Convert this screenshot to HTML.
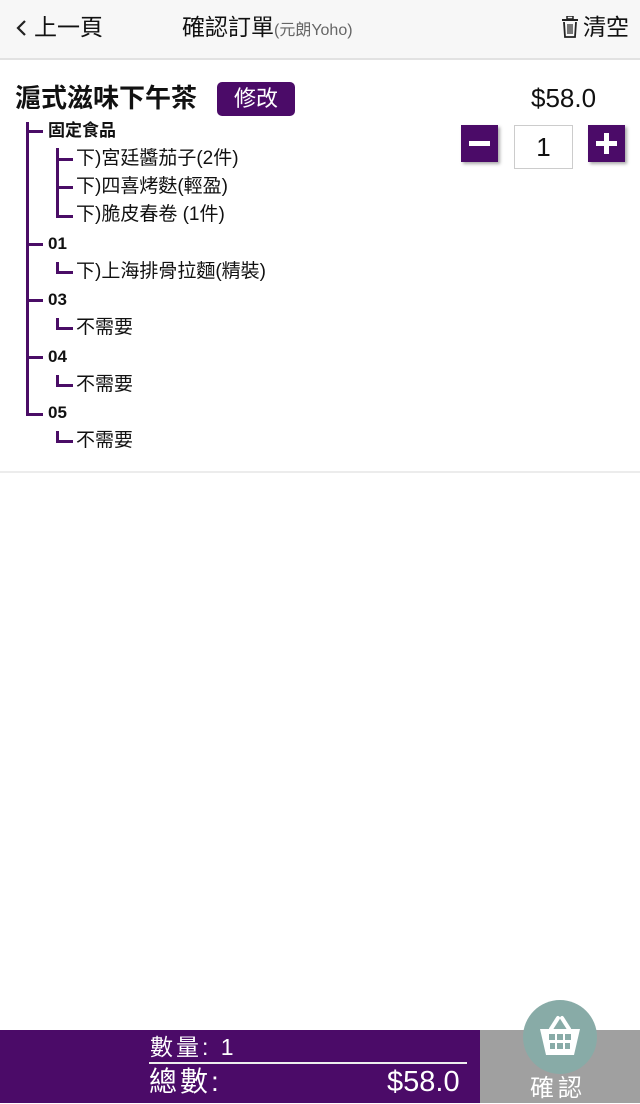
<!DOCTYPE html>
<html><head><meta charset="utf-8"><style>
*{margin:0;padding:0;box-sizing:border-box}
body{width:640px;height:1103px;background:#fff;position:relative;overflow:hidden;font-family:"Liberation Sans","Noto Sans CJK TC",sans-serif;color:#111}
.a{position:absolute;white-space:nowrap}
.ln{position:absolute;background:#4a0d66}
.t{position:absolute;font-size:19px;line-height:20px;white-space:nowrap}
</style></head><body>
<div class="a" style="left:0;top:0;width:640px;height:60px;background:#f7f7f7;border-bottom:2px solid #e2e2e2"></div>
<svg class="a" style="left:15px;top:19px" width="12" height="18" viewBox="0 0 12 18"><path d="M10 2 L3 9 L10 16" stroke="#222" stroke-width="2.2" fill="none"/></svg>
<div class="a" style="left:34px;top:12px;font-size:23px;line-height:30px">上一頁</div>
<div class="a" style="left:182px;top:12px;font-size:23px;line-height:30px">確認訂單<span style="font-size:16px;color:#666">(元朗Yoho)</span></div>
<svg class="a" style="left:561px;top:16px" width="18" height="22" viewBox="0 0 18 22"><rect x="1" y="3" width="16" height="2" fill="#222"/><rect x="6" y="0" width="6" height="3" fill="none" stroke="#222" stroke-width="1.5"/><path d="M3 6 L4 21 H14 L15 6" fill="none" stroke="#222" stroke-width="1.8"/><path d="M7 8V18M9 8V18M11 8V18" stroke="#222" stroke-width="1.2"/></svg>
<div class="a" style="left:583px;top:12px;font-size:23px;line-height:30px">清空</div>

<div class="a" style="left:15px;top:82px;font-size:26px;font-weight:bold;line-height:32px">滬式滋味下午茶</div>
<div class="a" style="left:217px;top:82px;width:78px;height:34px;background:#4b0b68;border-radius:5px;color:#fff;font-size:22px;line-height:34px;text-align:center">修改</div>
<div class="a" style="left:531px;top:83px;font-size:26px;line-height:30px">$58.0</div>

<div class="a" style="left:461px;top:125px;width:37px;height:37px;background:#4b0b68;box-shadow:2px 2px 3px #aaa"></div>
<div class="a" style="left:469px;top:141px;width:21px;height:5px;background:#fff"></div>
<div class="a" style="left:514px;top:125px;width:59px;height:44px;border:1px solid #ccc;font-size:26px;line-height:42px;text-align:center">1</div>
<div class="a" style="left:588px;top:125px;width:37px;height:37px;background:#4b0b68;box-shadow:2px 2px 3px #aaa"></div>
<div class="a" style="left:596px;top:141px;width:21px;height:5px;background:#fff"></div>
<div class="a" style="left:604px;top:133px;width:5px;height:21px;background:#fff"></div>

<div class="ln" style="left:26px;top:122px;width:3px;height:294px"></div>
<div class="ln" style="left:26px;top:130px;width:17px;height:3px"></div>
<div class="ln" style="left:26px;top:243px;width:17px;height:3px"></div>
<div class="ln" style="left:26px;top:299px;width:17px;height:3px"></div>
<div class="ln" style="left:26px;top:356px;width:17px;height:3px"></div>
<div class="ln" style="left:26px;top:413px;width:17px;height:3px"></div>
<div class="ln" style="left:56px;top:148px;width:3px;height:70px"></div>
<div class="ln" style="left:56px;top:158px;width:17px;height:3px"></div>
<div class="ln" style="left:56px;top:186px;width:17px;height:3px"></div>
<div class="ln" style="left:56px;top:215px;width:17px;height:3px"></div>
<div class="ln" style="left:56px;top:262px;width:3px;height:12px"></div>
<div class="ln" style="left:56px;top:271px;width:17px;height:3px"></div>
<div class="ln" style="left:56px;top:318px;width:3px;height:12px"></div>
<div class="ln" style="left:56px;top:327px;width:17px;height:3px"></div>
<div class="ln" style="left:56px;top:375px;width:3px;height:12px"></div>
<div class="ln" style="left:56px;top:384px;width:17px;height:3px"></div>
<div class="ln" style="left:56px;top:431px;width:3px;height:12px"></div>
<div class="ln" style="left:56px;top:440px;width:17px;height:3px"></div>

<div class="t" style="left:48px;top:121px;font-weight:bold;font-size:17px">固定食品</div>
<div class="t" style="left:76px;top:149px">下)宮廷醬茄子(2件)</div>
<div class="t" style="left:76px;top:177px">下)四喜烤麩(輕盈)</div>
<div class="t" style="left:76px;top:205px">下)脆皮春卷 (1件)</div>
<div class="t" style="left:48px;top:234px;font-weight:bold;font-size:17px">01</div>
<div class="t" style="left:76px;top:262px">下)上海排骨拉麵(精裝)</div>
<div class="t" style="left:48px;top:290px;font-weight:bold;font-size:17px">03</div>
<div class="t" style="left:76px;top:318px">不需要</div>
<div class="t" style="left:48px;top:347px;font-weight:bold;font-size:17px">04</div>
<div class="t" style="left:76px;top:375px">不需要</div>
<div class="t" style="left:48px;top:403px;font-weight:bold;font-size:17px">05</div>
<div class="t" style="left:76px;top:431px">不需要</div>

<div class="a" style="left:0;top:471px;width:640px;height:2px;background:#ececec"></div>

<div class="a" style="left:0;top:1030px;width:480px;height:73px;background:#4b0b68"></div>
<div class="a" style="left:480px;top:1030px;width:160px;height:73px;background:#a0a0a0"></div>
<div class="a" style="left:150px;top:1034px;color:#fff;font-size:23px;line-height:26px;letter-spacing:3px">數量: 1</div>
<div class="a" style="left:149px;top:1062px;width:318px;height:2px;background:#eee"></div>
<div class="a" style="left:149px;top:1065px;color:#fff;font-size:28px;line-height:34px;letter-spacing:3px">總數:</div>
<div class="a" style="left:387px;top:1065px;color:#fff;font-size:29px;line-height:34px">$58.0</div>
<div class="a" style="left:523px;top:1000px;width:74px;height:74px;border-radius:50%;background:#88aba7"></div>
<svg class="a" style="left:538px;top:1015px" width="44" height="44" viewBox="0 0 44 44"><path d="M13 14 L20 3 M31 14 L24 3" stroke="#fff" stroke-width="4" fill="none" stroke-linecap="round"/><path d="M2 14 H42 L36 40 H8 Z" fill="#fff"/><rect x="11" y="19" width="6" height="6" fill="#88aba7"/><rect x="19" y="19" width="6" height="6" fill="#88aba7"/><rect x="27" y="19" width="6" height="6" fill="#88aba7"/><rect x="12" y="28" width="5" height="6" fill="#88aba7"/><rect x="19" y="28" width="6" height="6" fill="#88aba7"/><rect x="27" y="28" width="5" height="6" fill="#88aba7"/></svg>
<div class="a" style="left:530px;top:1074px;color:#fff;font-size:24px;line-height:30px;letter-spacing:4px">確認</div>
</body></html>
